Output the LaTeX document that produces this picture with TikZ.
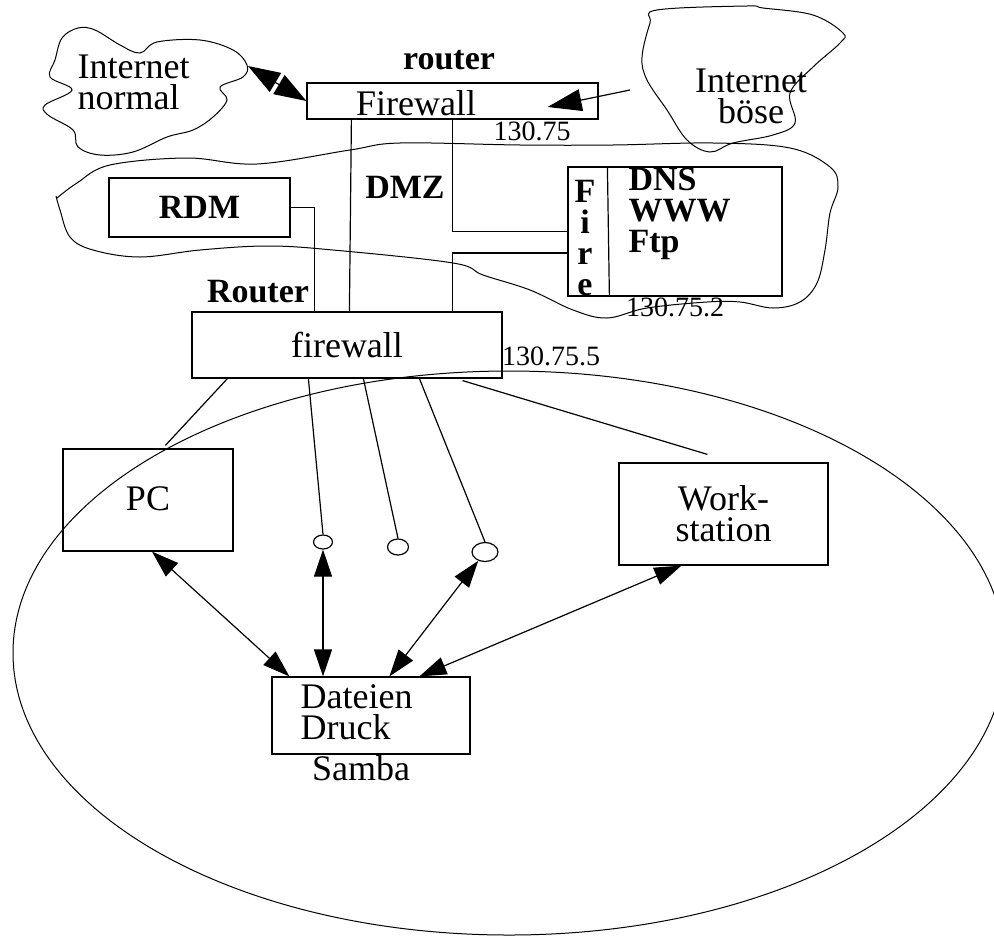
\documentclass[tikz,border=0pt]{standalone}
\usepackage{fontspec}
\setmainfont{Liberation Serif}
\usetikzlibrary{arrows.meta,shapes.geometric,calc}

\begin{document}
\begin{tikzpicture}[x=0.5pt,y=-0.5pt,line width=0.6pt,
  txt/.style={font=\fontsize{18}{15.5}\selectfont,inner sep=0pt},
  btxt/.style={font=\fontsize{17}{15.5}\selectfont\bfseries,inner sep=0pt},
  num/.style={font=\fontsize{14}{15}\selectfont,inner sep=0pt},
  box/.style={draw,inner sep=0pt,txt},
  hole/.style={draw,ellipse,inner sep=0pt},
  cloud/.style={line width=0.5pt},
  dbl/.style={{Triangle[length=13.5pt,width=9pt]}-{Triangle[length=13.5pt,width=9pt]}},
  fatdbl/.style={{Triangle[length=16pt,width=11pt]}-{Triangle[length=16pt,width=11pt]}},
  fat/.style={-{Triangle[length=17pt,width=11pt]}}]
  \useasboundingbox (0,0) rectangle (994,937);
  \clip (0,0) rectangle (994,937);
  % clouds
  \draw[cloud] plot[smooth cycle,tension=0.6] coordinates {(140,53) (120,45) (95,30) (78,28) (62,38) (55,60)
    (50,77) (72,90) (45,105) (48,115) (73,130) (78,147) (100,155) (133,152) (167,137) (193,130)
    (213,117) (227,100) (220,87) (243,77) (247,65) (233,50) (200,40) (157,42)};
  \node[txt,align=left,anchor=west] (nrmtxt) at (77,82) {Internet\\normal};
  \draw[cloud] plot[smooth cycle,tension=0.6] coordinates {(657,10) (747,6) (763,8) (813,15) (843,33)
    (840,43) (813,67) (790,93) (795,123) (773,135) (733,143) (710,152) (687,140) (667,110)
    (647,80) (642,57) (650,23)};
  \node[txt,align=center] (bstxt) at (751,96) {Internet\\b\"ose};
  \draw[cloud] (57,198) -- plot[smooth,tension=0.6] coordinates {(57,198) (77,183) (110,165) (187,158) (257,164)
    (350,150) (400,143) (520,145) (613,145) (713,143) (790,148) (830,167) (838,187) (830,213)
    (825,250) (817,283) (800,302) (773,308) (740,302) (707,302) (647,308) (607,318) (573,310)
    (530,290) (483,275) (453,263) (333,250) (267,246) (200,250) (140,257) (93,250) (70,237)
    (60,210) (56,196)};
  \draw[cloud] (509,653) ellipse [x radius=496,y radius=282];

  % outer router
  \node[btxt] (rtop) at (449,60) {router};
  \node[box,minimum width=145.5pt,minimum height=18pt] (fwtop) at (452.5,101) {};
  \node[txt] (fwtxt) at (416,103) {Firewall};
  \node[num] (ip1) at (532,131) {130.75};
  \coordinate (nrm) at (248,66);
  \coordinate (bs) at (630,90);
  \draw[fatdbl] (nrm) -- (fwtop.west);
  \draw[fat] (bs) -- ([xshift=-25.5pt,yshift=-3pt]fwtop.east);

  % DMZ
  \node[btxt] (dmz) at (405,187) {DMZ};
  \node[box,btxt,minimum width=90.5pt,minimum height=29.5pt] (rdm) at (199.5,207.5) {RDM};
  \node[box,minimum width=107pt,minimum height=64.5pt] (srv) at (675,231.5) {};
  \draw ([xshift=20pt]srv.north west) -- ([xshift=21pt]srv.south west);
  \node[btxt,align=center] (firetxt) at (585,238) {F\\i\\r\\e};
  \node[btxt,align=left,anchor=west] (svc) at (628,214) {DNS\\WWW\\Ftp};
  \node[num] (ip2) at (675,307) {130.75.2};

  % inner router
  \node[btxt] (rin) at (258,292) {Router};
  \node[box,minimum width=155pt,minimum height=33pt] (fwin) at (347,345) {firewall};
  \node[num] (ip3) at (551,356) {130.75.5};
  \draw ([xshift=22.5pt]fwtop.south west) -- ([xshift=79pt]fwin.north west);
  \draw (fwtop.south) |- (srv.west);
  \draw ([xshift=130.5pt]fwin.north west) |- ([yshift=-10.75pt]srv.west);
  \draw (rdm.east) -| ([xshift=61.5pt]fwin.north west);

  % inner network
  \node[box,minimum width=85pt,minimum height=51pt] (pc) at (148,500) {\raisebox{1.5pt}{PC}};
  \node[box,align=center,minimum width=104.5pt,minimum height=51pt] (ws) at (723.5,514) {Work-\\station};
  \node[hole,minimum width=9.5pt,minimum height=7pt] (c1) at (323,542) {};
  \node[hole,minimum width=10.5pt,minimum height=8pt] (c2) at (398,547) {};
  \node[hole,minimum width=13pt,minimum height=9.5pt] (c3) at (485,552) {};
  \node[box,minimum width=99pt,minimum height=38.5pt] (dat) at (371,715.5) {};
  \node[txt,align=left,anchor=west] (dattxt) at (300,712) {Dateien\\Druck};
  \node[txt] (samba) at (361,768) {Samba};
  \draw ([xshift=18pt]fwin.south west) -- ([xshift=51.5pt,yshift=1.5pt]pc.north west);
  \draw ([xshift=58.5pt]fwin.south west) -- (c1.north);
  \draw ([xshift=86pt]fwin.south west) -- (c2.north);
  \draw ([xshift=114pt]fwin.south west) -- (c3.north);
  \draw ([xshift=-20pt,yshift=-1pt]fwin.south east) -- ([xshift=44.5pt,yshift=4pt]ws.north west);
  \draw[dbl] ([xshift=2pt]pc.south) -- ([xshift=9pt]dat.north west);
  \draw[dbl] (c1.south) -- (c1.south |- dat.north);
  \draw[dbl] (c3) -- ([xshift=59pt]dat.north west);
  \draw[dbl] ([xshift=31.5pt]ws.south west) -- ([xshift=74pt]dat.north west);
\end{tikzpicture}
\end{document}
